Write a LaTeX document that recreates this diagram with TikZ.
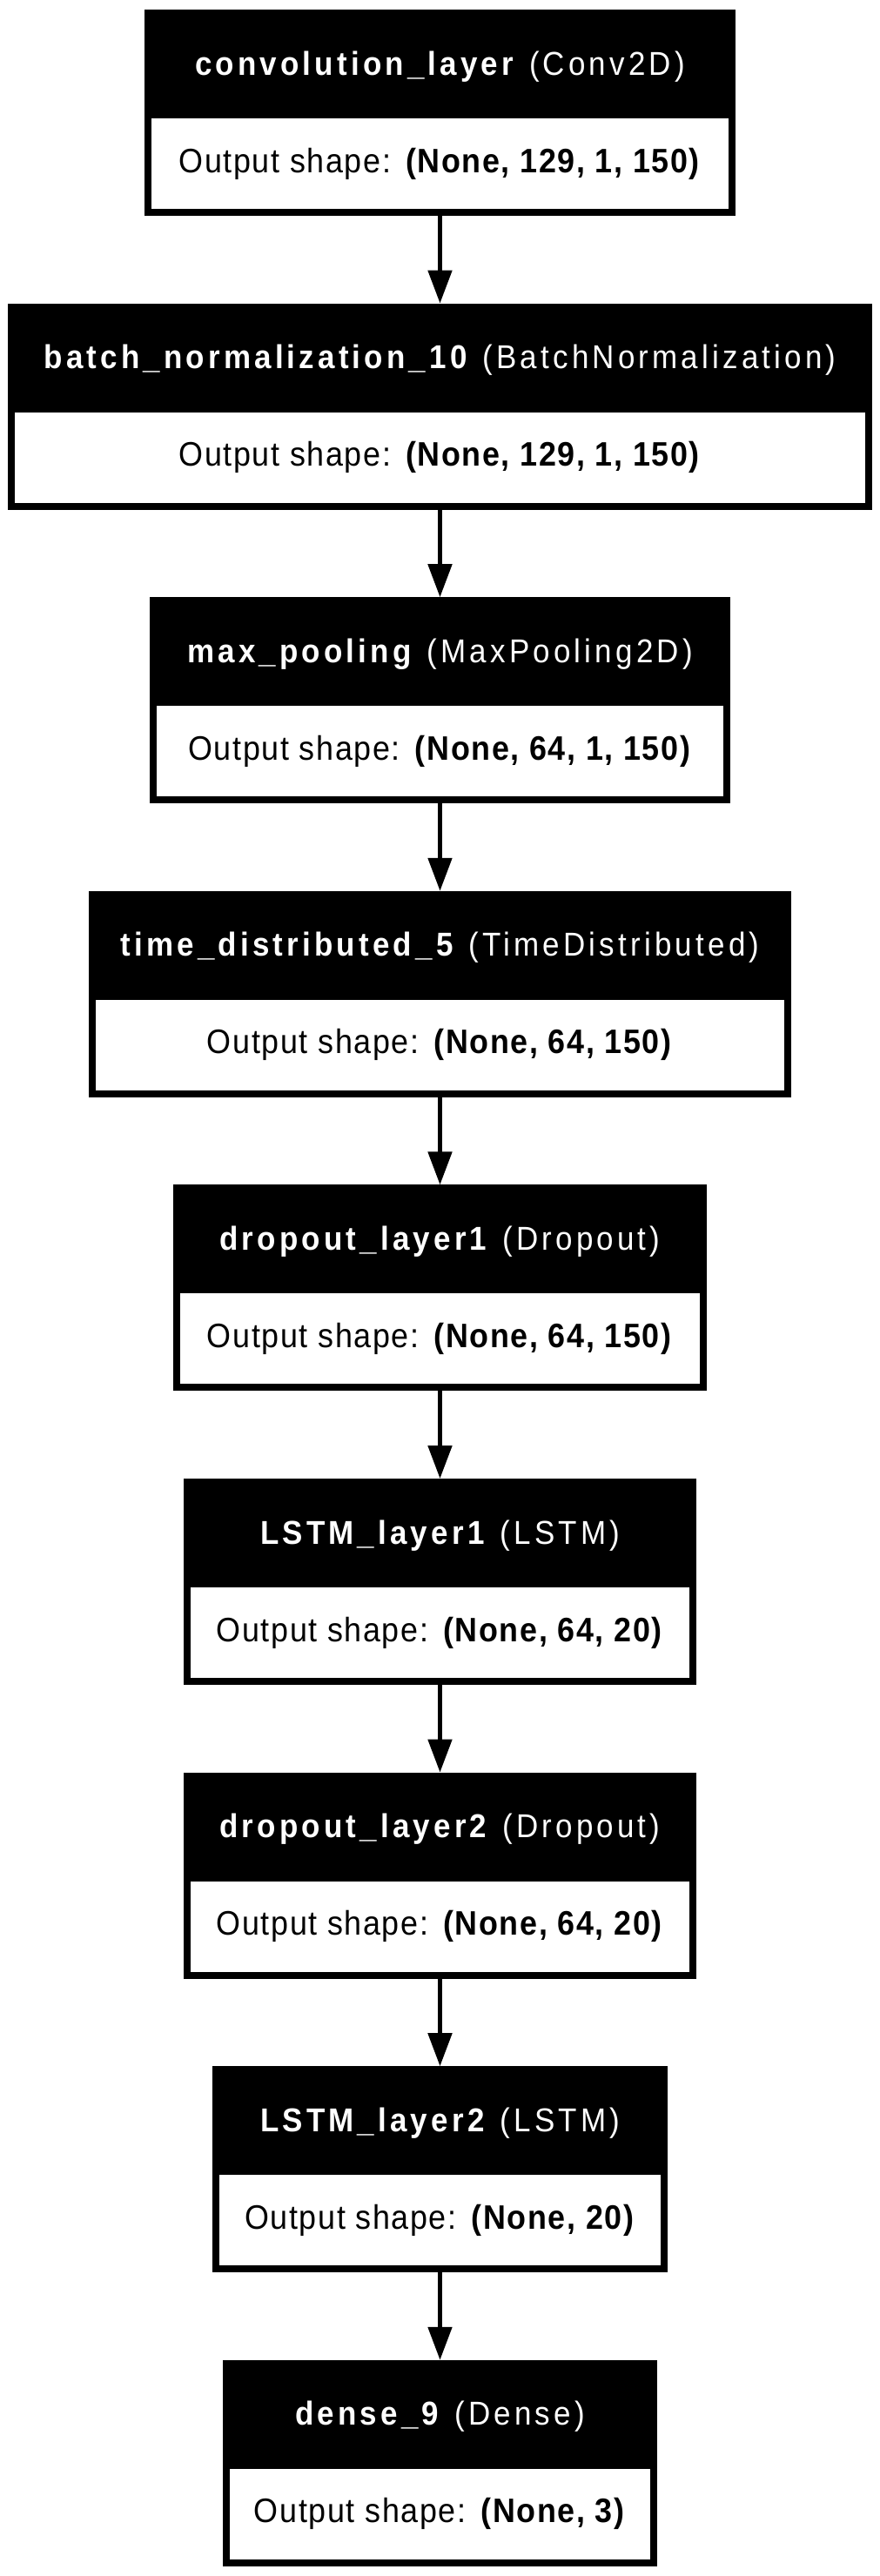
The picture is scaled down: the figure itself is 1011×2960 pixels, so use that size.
\documentclass[tikz,border=0pt]{standalone}
\usepackage{fontspec}
\setmainfont{Liberation Sans}
\newfontfamily\headfont[FakeStretch=0.92, LetterSpace=11]{Liberation Sans}
\newfontfamily\bodyfont[FakeStretch=0.92, LetterSpace=4.2]{Liberation Sans}
\usetikzlibrary{positioning,arrows.meta}

\begin{document}
\begin{tikzpicture}[x=1pt, y=1pt, node distance=104.6pt,
  head/.style = {fill=black, text=white, minimum height=125pt, inner sep=0pt, outer sep=0pt, text height=28pt, text depth=3pt, font=\headfont\fontsize{38}{44}\selectfont},
  body/.style = {draw=black, fill=white, line width=8pt, minimum height=112pt, inner sep=0pt, outer sep=0pt, text height=28pt, text depth=8pt, font=\bodyfont\fontsize{39}{44}\selectfont},
  arr/.style = {line width=5pt, -{Triangle[length=38pt, width=27pt]}}]
\useasboundingbox (0,0) rectangle (1011,-2960);
\node[head, minimum width=679pt] (h1) at (505.5,-73.5) {\textbf{convolution\_layer} (Conv2D)};
\node[body, minimum width=671pt, below=-4pt of h1] (b1) {Output shape: \textbf{(None, 129, 1, 150)}};
\node[head, minimum width=993pt, below=of b1] (h2) {\textbf{batch\_normalization\_10} (BatchNormalization)};
\node[body, minimum width=985pt, below=-4pt of h2] (b2) {Output shape: \textbf{(None, 129, 1, 150)}};
\node[head, minimum width=667pt, below=of b2] (h3) {\textbf{max\_pooling} (MaxPooling2D)};
\node[body, minimum width=659pt, below=-4pt of h3] (b3) {Output shape: \textbf{(None, 64, 1, 150)}};
\node[head, minimum width=807pt, below=of b3] (h4) {\textbf{time\_distributed\_5} (TimeDistributed)};
\node[body, minimum width=799pt, below=-4pt of h4] (b4) {Output shape: \textbf{(None, 64, 150)}};
\node[head, minimum width=613pt, below=of b4] (h5) {\textbf{dropout\_layer1} (Dropout)};
\node[body, minimum width=605pt, below=-4pt of h5] (b5) {Output shape: \textbf{(None, 64, 150)}};
\node[head, minimum width=589pt, below=of b5] (h6) {\textbf{LSTM\_layer1} (LSTM)};
\node[body, minimum width=581pt, below=-4pt of h6] (b6) {Output shape: \textbf{(None, 64, 20)}};
\node[head, minimum width=589pt, below=of b6] (h7) {\textbf{dropout\_layer2} (Dropout)};
\node[body, minimum width=581pt, below=-4pt of h7] (b7) {Output shape: \textbf{(None, 64, 20)}};
\node[head, minimum width=523pt, below=of b7] (h8) {\textbf{LSTM\_layer2} (LSTM)};
\node[body, minimum width=515pt, below=-4pt of h8] (b8) {Output shape: \textbf{(None, 20)}};
\node[head, minimum width=499pt, below=of b8] (h9) {\textbf{dense\_9} (Dense)};
\node[body, minimum width=491pt, below=-4pt of h9] (b9) {Output shape: \textbf{(None, 3)}};
\draw[arr] (b1) -- (h2);
\draw[arr] (b2) -- (h3);
\draw[arr] (b3) -- (h4);
\draw[arr] (b4) -- (h5);
\draw[arr] (b5) -- (h6);
\draw[arr] (b6) -- (h7);
\draw[arr] (b7) -- (h8);
\draw[arr] (b8) -- (h9);
\end{tikzpicture}
\end{document}
